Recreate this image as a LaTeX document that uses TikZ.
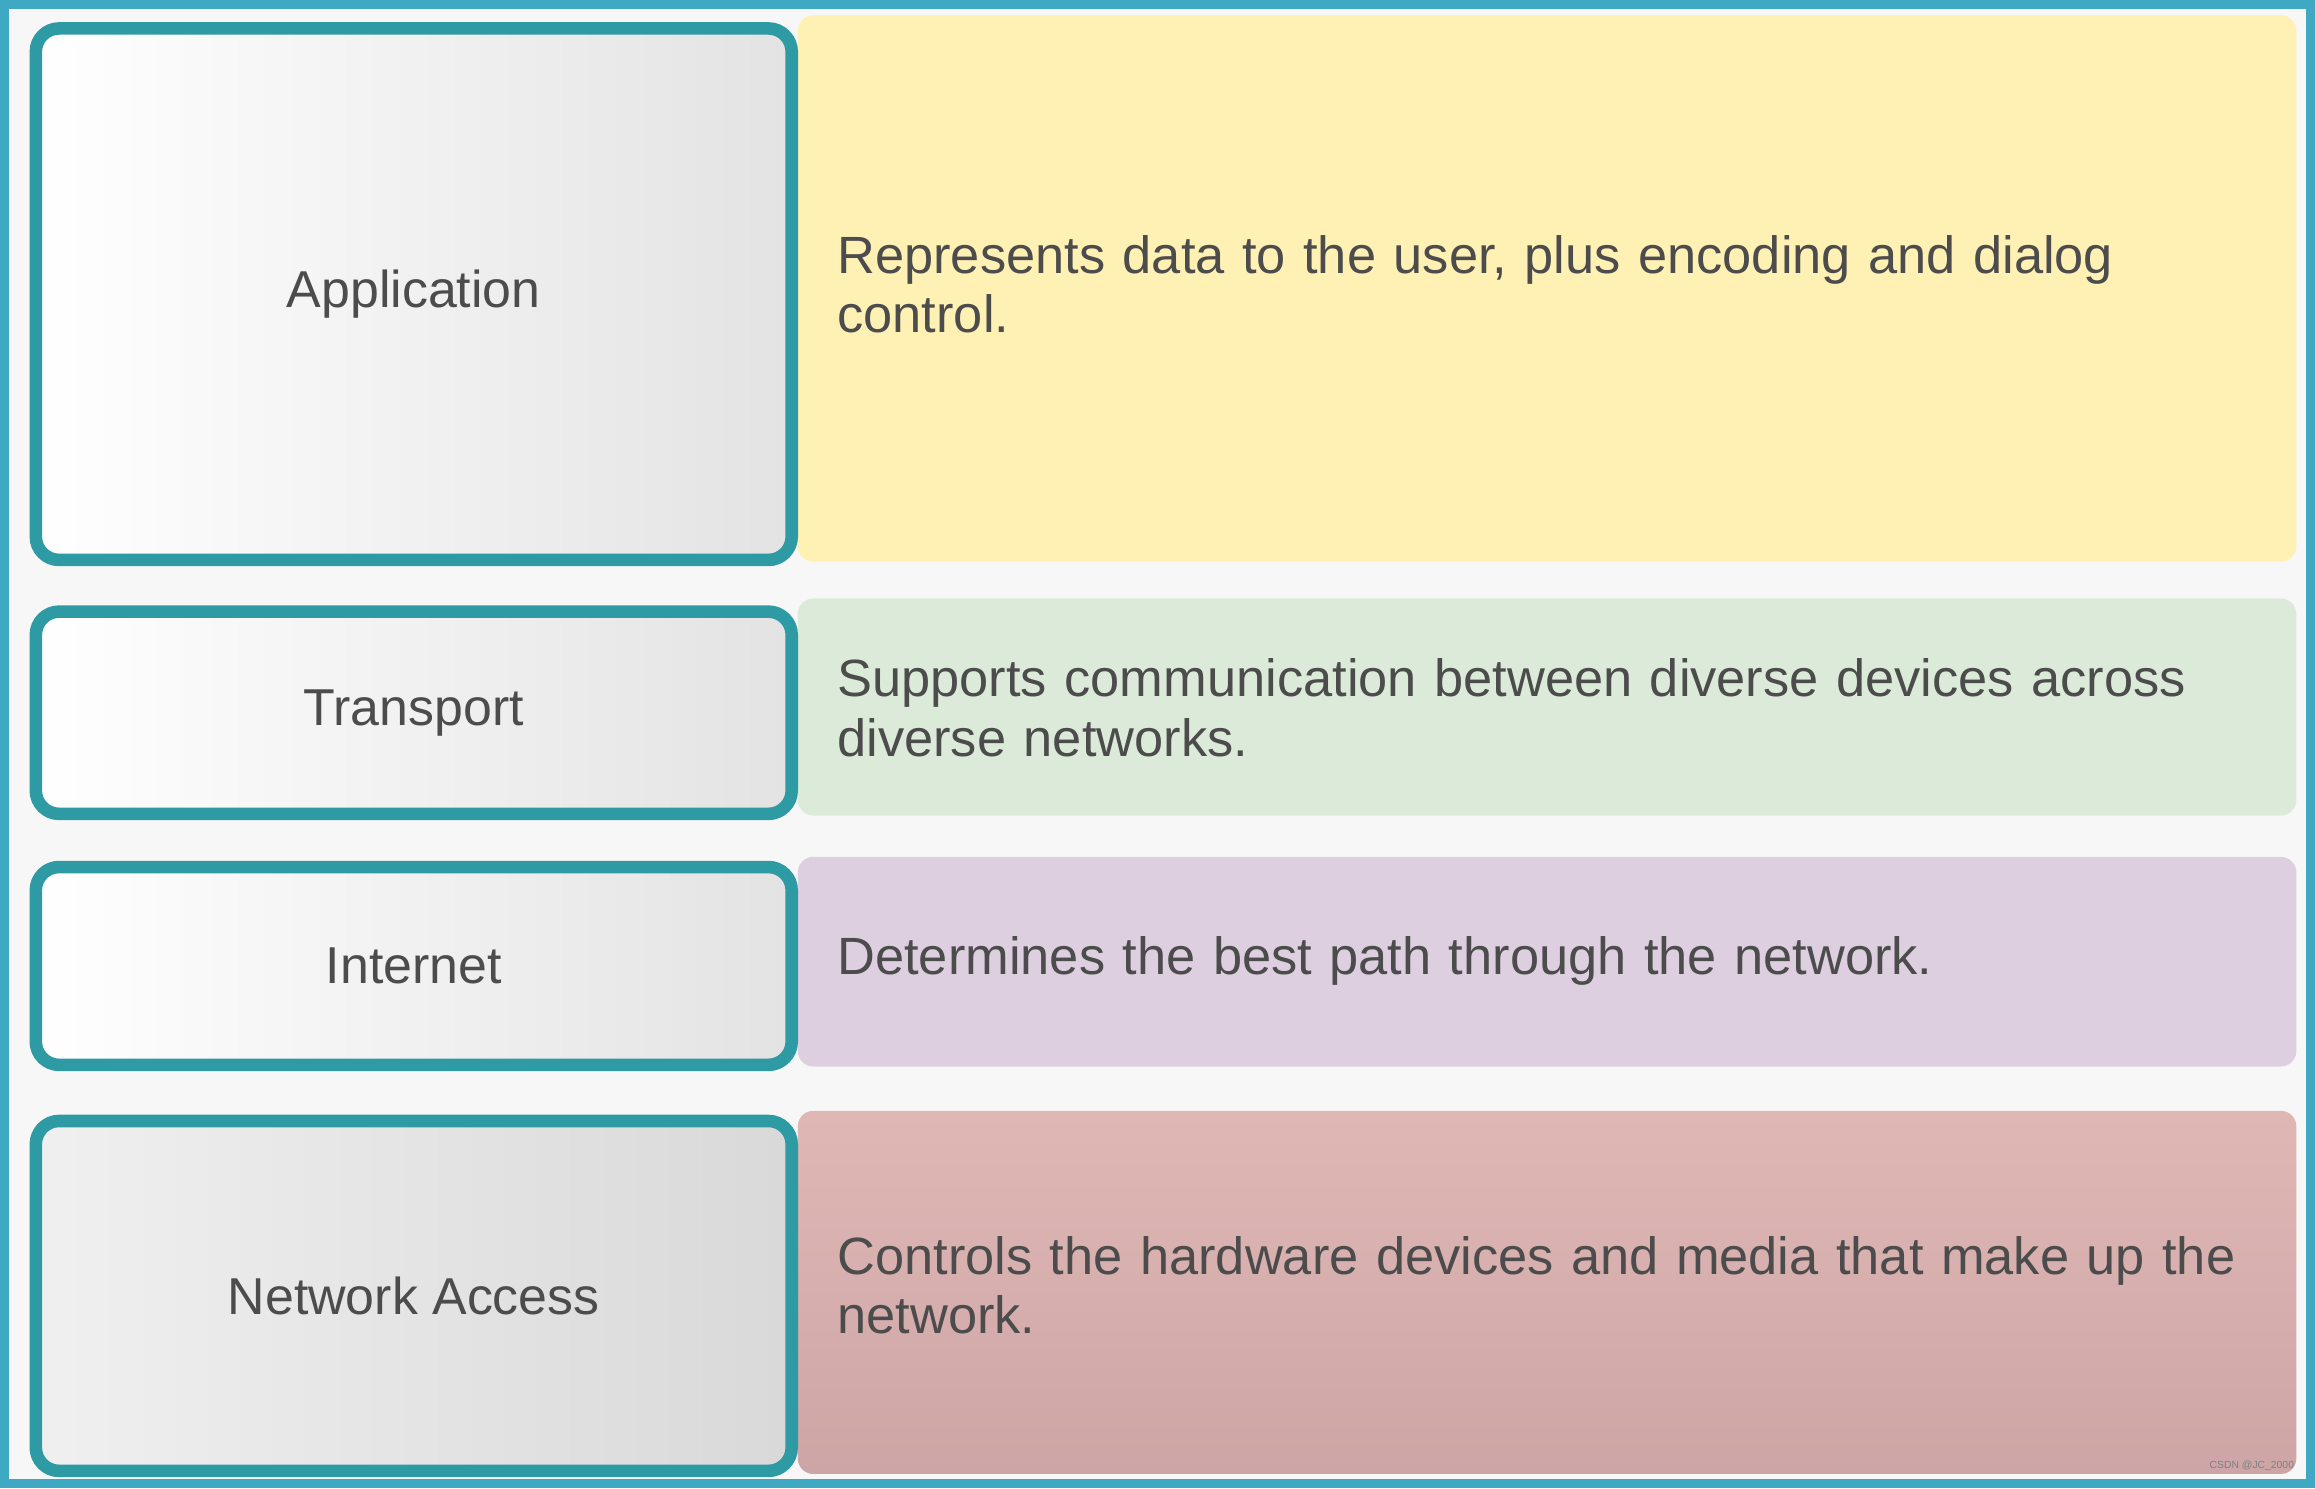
\documentclass[tikz,border=0pt]{standalone}
\usepackage{fontspec}
\setmainfont{Liberation Sans}
\definecolor{tealb}{HTML}{2E9AA3}
\definecolor{frm}{HTML}{3FA9C4}
\definecolor{cy}{HTML}{FFF0B4}
\definecolor{cg}{HTML}{DCEBD9}
\definecolor{cp}{HTML}{DDCFE0}
\definecolor{cr1}{HTML}{DFB8B5}
\definecolor{cr2}{HTML}{CEA5A6}
\begin{document}
\begin{tikzpicture}[x=0.02cm,y=-0.02cm,
  layer/.style={draw=tealb,line width=0.17cm,rounded corners=9pt,left color=white,right color=gray!22,font=\fontsize{20}{22}\selectfont,text=black!70,inner sep=0},
  desc/.style={rounded corners=6pt,inner sep=0},
  dtext/.style={anchor=north west,align=left,font=\fontsize{20.2}{23}\selectfont,text=black!70,text width=21cm}]
\useasboundingbox (0,0) rectangle (1568,1008);
\fill[frm] (0,0) rectangle (1568,1008);
\fill[gray!6] (6,6) rectangle (1562,1002);
% right panels
\node[desc,fill=cy,minimum width=1015*0.02cm,minimum height=370*0.02cm,anchor=north west] (pa) at (540,10) {};
\node[desc,fill=cg,minimum width=1015*0.02cm,minimum height=147*0.02cm,anchor=north west] (pt) at (540,405) {};
\node[desc,fill=cp,minimum width=1015*0.02cm,minimum height=142*0.02cm,anchor=north west] (pi) at (540,580) {};
\node[desc,top color=cr1,bottom color=cr2,minimum width=1015*0.02cm,minimum height=246*0.02cm,anchor=north west] (pn) at (540,752) {};
% left boxes
\node[layer,minimum width=512*0.02cm,minimum height=360*0.02cm,anchor=north west] (a) at (20,15) {Application};
\node[layer,minimum width=512*0.02cm,minimum height=137*0.02cm,anchor=north west] (t) at (20,410) {Transport};
\node[layer,minimum width=512*0.02cm,minimum height=134*0.02cm,anchor=north west] (i) at (20,583) {Internet};
\node[layer,minimum width=512*0.02cm,minimum height=237*0.02cm,anchor=north west,left color=gray!12,right color=gray!30] (n) at (20,755) {Network Access};
% texts
\node[dtext] (ta) at (561,153) {Represents data to the user, plus encoding and dialog\\control.};
\node[dtext] (tt) at (561,440) {Supports communication between diverse devices across\\diverse networks.};
\node[dtext] (ti) at (561,628) {Determines the best path through the network.};
\node[dtext] (tn) at (561,831) {Controls the hardware devices and media that make up the\\network.};
\node[font=\fontsize{4}{5}\selectfont,text=gray,anchor=south east] (wm) at (1560,1002) {CSDN @JC\_2000};
\end{tikzpicture}
\end{document}
